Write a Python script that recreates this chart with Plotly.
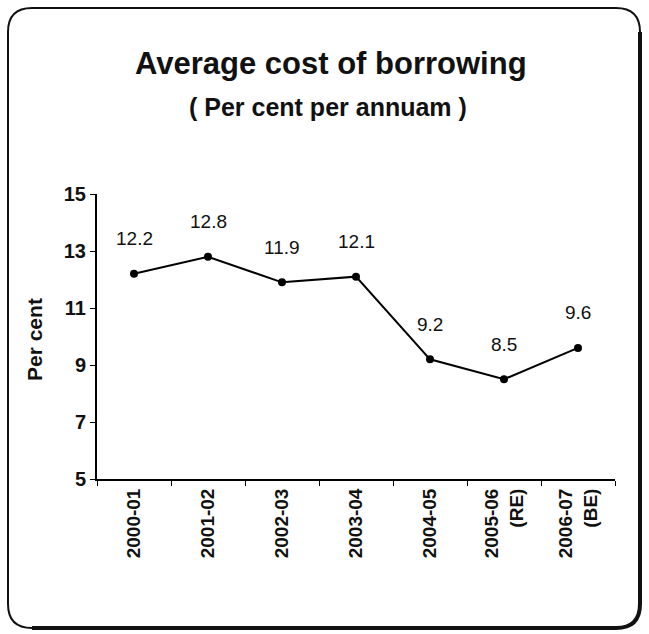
import plotly.graph_objects as go

categories = ["2000-01", "2001-02", "2002-03", "2003-04", "2004-05", "2005-06<br>(RE)", "2006-07<br>(BE)"]
values = [12.2, 12.8, 11.9, 12.1, 9.2, 8.5, 9.6]
value_labels = ["12.2", "12.8", "11.9", "12.1", "9.2", "8.5", "9.6"]
y_ticks = [5, 7, 9, 11, 13, 15]

W, H = 649, 634
L, R, T, B = 97, 615, 194, 479  # plot area in pixels
FONT = "Liberation Sans, Arial, Helvetica, sans-serif"


def px(xp):
    return (xp - L) / (R - L)


def py(yp):
    return (B - yp) / (B - T)


fig = go.Figure()
fig.add_trace(go.Scatter(
    x=categories, y=values, mode="lines+markers",
    line=dict(color="black", width=2),
    marker=dict(color="black", size=8),
    hoverinfo="x+y", showlegend=False,
))

for c, v, t in zip(categories, values, value_labels):
    fig.add_annotation(x=c, y=v, text=t, showarrow=False, yshift=35,
                       font=dict(family=FONT, size=19, color="#111"))

# Titles
fig.add_annotation(xref="paper", yref="paper", x=px(331), y=py(64),
                   xanchor="center", yanchor="middle",
                   text="<b>Average cost of borrowing</b>", showarrow=False,
                   font=dict(family=FONT, size=31, color="#111"))
fig.add_annotation(xref="paper", yref="paper", x=px(328), y=py(107),
                   xanchor="center", yanchor="middle",
                   text="<b>( Per cent per annuam )</b>", showarrow=False,
                   font=dict(family=FONT, size=25, color="#111"))
fig.add_annotation(xref="paper", yref="paper", x=px(34), y=py(340),
                   xanchor="center", yanchor="middle",
                   text="<b>Per cent</b>", showarrow=False, textangle=-90,
                   font=dict(family=FONT, size=21, color="#111"))

# Rounded frame
x0, x1, y0, y1 = px(8), px(640), py(8), py(628)
rx = 24 / (R - L)
ry = 24 / (B - T)
path = (f"M {x0+rx},{y0} L {x1-rx},{y0} Q {x1},{y0} {x1},{y0-ry} "
        f"L {x1},{y1+ry} Q {x1},{y1} {x1-rx},{y1} "
        f"L {x0+rx},{y1} Q {x0},{y1} {x0},{y1+ry} "
        f"L {x0},{y0-ry} Q {x0},{y0} {x0+rx},{y0} Z")
fig.add_shape(type="path", xref="paper", yref="paper", path=path,
              line=dict(color="#111", width=2), layer="below")
path2 = (f"M {x1},{y0-ry} L {x1},{y1+ry} Q {x1},{y1} {x1-rx},{y1} L {x0+rx},{y1}")
fig.add_shape(type="path", xref="paper", yref="paper", path=path2,
              line=dict(color="#111", width=4), layer="below")

fig.update_layout(
    width=W, height=H,
    margin=dict(l=L, r=W - R, t=T, b=H - B),
    paper_bgcolor="white", plot_bgcolor="white",
    font=dict(family=FONT, color="#111"),
    xaxis=dict(
        type="category", range=[-0.5, 6.5],
        showline=True, linecolor="black", linewidth=2,
        ticks="outside", tickson="boundaries", ticklen=5, tickcolor="black",
        tickangle=-90, showgrid=False, zeroline=False,
        tickfont=dict(family=FONT, size=19, color="#111"),
    ),
    yaxis=dict(
        range=[5, 15], tickvals=y_ticks,
        ticktext=[f"<b>{v}</b>" for v in y_ticks],
        showline=True, linecolor="black", linewidth=2,
        ticks="outside", ticklen=5, tickcolor="black",
        showgrid=False, zeroline=False,
        tickfont=dict(family=FONT, size=20, color="#111"),
    ),
)
fig.update_xaxes(ticktext=[f"<b>{c}</b>" for c in categories], tickvals=categories)

fig.write_html("out.html", config={"displayModeBar": False},
               post_script="document.body.style.margin='0';document.body.style.overflow='hidden';")
